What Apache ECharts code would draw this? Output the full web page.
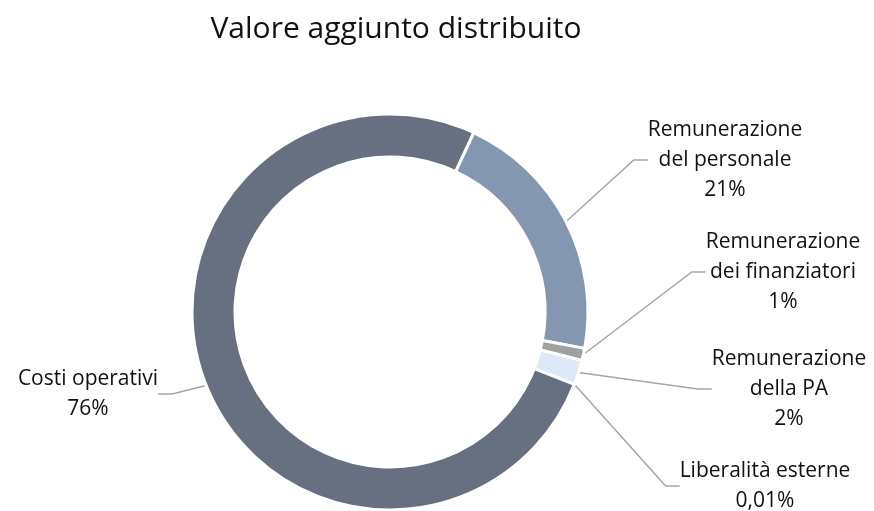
<!DOCTYPE html>
<html>
<head>
<meta charset="utf-8">
<script src="https://cdn.jsdelivr.net/npm/echarts@6/dist/echarts.min.js"></script>
<style>
  html, body { margin: 0; padding: 0; background: #fff; }
  #chart { width: 874px; height: 511px; }
</style>
</head>
<body>
<div id="chart"></div>
<script>
// dati del grafico
const categories = [
    'Remunerazione\ndel personale',
    'Remunerazione\ndei finanziatori',
    'Remunerazione\ndella PA',
    'Liberalità esterne',
    'Costi operativi'
];
const values = [21, 1, 2, 0.01, 76];
const colors = ['#8497b0', '#a0a0a0', '#dde9f6', '#b4c7e7', '#667080'];

// posizione dei testi (centro del blocco)
const labelPos = [[725, 160], [783, 272], [789, 389], [765, 486], [88, 394]];

const chart = echarts.init(document.getElementById('chart'));

chart.setOption({
    animation: false,
    title: {
        text: 'Valore aggiunto distribuito',
        left: 391,
        textAlign: 'center',
        top: 9,
        textStyle: { fontFamily: 'Open Sans', fontSize: 30, fontWeight: 'normal', color: '#111' }
    },
    series: [{
        type: 'pie',
        center: [390, 312],
        radius: [155, 198],
        startAngle: 65,
        clockwise: true,
        avoidLabelOverlap: false,
        itemStyle: { borderColor: '#fff', borderWidth: 3 },
        label: {
            show: true,
            fontFamily: 'Open Sans',
            fontSize: 21,
            lineHeight: 30,
            color: '#111',
            align: 'center',
            formatter: p => p.name + '\n' + String(p.value).replace('.', ',') + '%'
        },
        labelLine: {
            show: true,
            length: 20,
            length2: 14,
            lineStyle: { color: '#a6a6a6', width: 1.5 }
        },
        labelLayout: params => {
            const p = labelPos[params.dataIndex];
            return { x: p[0], y: p[1], align: 'center', verticalAlign: 'middle' };
        },
        data: categories.map((c, i) => ({
            name: c,
            value: values[i],
            itemStyle: { color: colors[i] }
        }))
    }]
});

window.addEventListener('resize', () => chart.resize());
</script>
</body>
</html>
